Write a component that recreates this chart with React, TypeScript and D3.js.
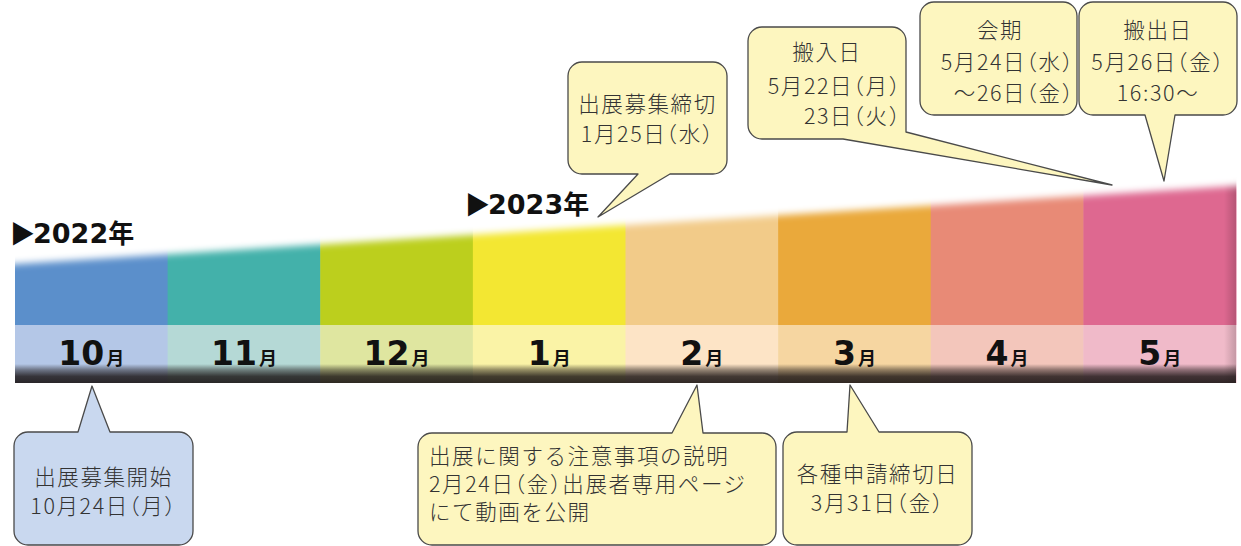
import React from 'react';
import * as d3 from 'd3';

const W = 1241;
const H = 546;

// months and colours
const months = ['10', '11', '12', '1', '2', '3', '4', '5'];
const bandColors = ['#5b8fcb', '#43b1aa', '#bccf1d', '#f3e732', '#f2cb89', '#eaa93b', '#e88a76', '#de6890'];
const labelColors = ['#b4c7e7', '#b5d9d6', '#dfe6a0', '#faf3a6', '#fde4c6', '#f6d6a1', '#f3c6bb', '#f0bac9'];

// year markers
const years = ['2022', '2023'];

// callout texts
const calloutTexts = [
  ['出展募集開始', '10月24日（月）'],
  ['出展に関する注意事項の説明', '2月24日（金）出展者専用ページ', 'にて動画を公開'],
  ['各種申請締切日', '3月31日（金）'],
  ['出展募集締切', '1月25日（水）'],
  ['搬入日', '5月22日（月）', '23日（火）'],
  ['会期', '5月24日（水）', '～26日（金）'],
  ['搬出日', '5月26日（金）', '16:30～'],
];

type Line = { x: number; y: number; anchor: 'start' | 'middle' | 'end' };
type Callout = {
  box: [number, number, number, number];
  side: 'top' | 'bottom';
  base: [number, number];
  tip: [number, number];
  corner?: number;
  fill: string;
  lines: Line[];
};

const BLUE = '#c9d8ef';
const YELLOW = '#fdf6bf';

const layout: Callout[] = [
  {
    box: [14, 432, 193, 545], side: 'top', base: [78, 110], tip: [92, 386], fill: BLUE,
    lines: [{ x: 103.5, y: 485, anchor: 'middle' }, { x: 103.5, y: 514, anchor: 'middle' }],
  },
  {
    box: [418, 433, 776, 545], side: 'top', base: [672, 703], tip: [697, 385], fill: YELLOW,
    lines: [{ x: 429, y: 464, anchor: 'start' }, { x: 429, y: 492, anchor: 'start' }, { x: 429, y: 520, anchor: 'start' }],
  },
  {
    box: [783, 432, 972, 545], side: 'top', base: [847, 879], tip: [850, 385], fill: YELLOW,
    lines: [{ x: 877.5, y: 482, anchor: 'middle' }, { x: 877.5, y: 511, anchor: 'middle' }],
  },
  {
    box: [568, 62, 727, 174], side: 'bottom', base: [638, 670], tip: [598, 217], fill: YELLOW,
    lines: [{ x: 647.5, y: 112, anchor: 'middle' }, { x: 647.5, y: 142, anchor: 'middle' }],
  },
  {
    box: [748, 27, 906, 139], side: 'bottom', base: [843, 906], tip: [1112, 185], corner: 132, fill: YELLOW,
    lines: [{ x: 827, y: 60, anchor: 'middle' }, { x: 901, y: 94, anchor: 'end' }, { x: 901, y: 124, anchor: 'end' }],
  },
  {
    box: [920, 2, 1077, 115], side: 'bottom', base: [0, 0], tip: [0, 0], fill: YELLOW,
    lines: [{ x: 1000, y: 38, anchor: 'middle' }, { x: 1074, y: 70, anchor: 'end' }, { x: 1074, y: 101, anchor: 'end' }],
  },
  {
    box: [1079, 2, 1237, 115], side: 'bottom', base: [1145, 1175], tip: [1164, 181], fill: YELLOW,
    lines: [{ x: 1158, y: 38, anchor: 'middle' }, { x: 1158, y: 70, anchor: 'middle' }, { x: 1158, y: 101, anchor: 'middle' }],
  },
];

function calloutPath(c: Callout): string {
  const [x0, y0, x1, y1] = c.box;
  const r = 14;
  const p = d3.path();
  const hasPtr = c.base[0] !== c.base[1];
  if (c.side === 'top') {
    p.moveTo(x0 + r, y0);
    if (hasPtr) {
      p.lineTo(c.base[0], y0);
      p.lineTo(c.tip[0], c.tip[1]);
      p.lineTo(c.base[1], y0);
    }
    p.lineTo(x1 - r, y0);
    p.arcTo(x1, y0, x1, y0 + r, r);
    p.lineTo(x1, y1 - r);
    p.arcTo(x1, y1, x1 - r, y1, r);
    p.lineTo(x0 + r, y1);
  } else {
    p.moveTo(x0 + r, y0);
    p.lineTo(x1 - r, y0);
    p.arcTo(x1, y0, x1, y0 + r, r);
    if (hasPtr && c.corner !== undefined) {
      p.lineTo(x1, c.corner);
      p.lineTo(c.tip[0], c.tip[1]);
      p.lineTo(c.base[0], y1);
    } else {
      p.lineTo(x1, y1 - r);
      p.arcTo(x1, y1, x1 - r, y1, r);
      if (hasPtr) {
        p.lineTo(c.base[1], y1);
        p.lineTo(c.tip[0], c.tip[1]);
        p.lineTo(c.base[0], y1);
      }
    }
    p.lineTo(x0 + r, y1);
  }
  p.arcTo(x0, y1, x0, y1 - r, r);
  p.lineTo(x0, y0 + r);
  p.arcTo(x0, y0, x0 + r, y0, r);
  p.closePath();
  return p.toString();
}

const CJK = '"Noto Sans CJK JP", "Noto Sans CJK SC", sans-serif';

export default function App() {
  const x = d3.scaleBand<string>().domain(months).range([15, 1236]).padding(0);
  // slanted top edge of the colour band
  const topY = d3.scaleLinear().domain([15, 1236]).range([264, 186]);
  const bandBottom = 325;
  const labelBottom = 383;

  const maskPts = [
    [-60, topY(-60)], [1320, topY(1320)], [1320, 420], [-60, 420],
  ].map((d) => d.join(',')).join(' ');

  const yearPos = [
    { x: 10, y: 243 },
    { x: 465, y: 214 },
  ];

  return (
    <svg width={W} height={H} viewBox={`0 0 ${W} ${H}`}
      style={{ position: 'absolute', left: 0, top: 0, display: 'block', background: '#fff' }}>
      <defs>
        <filter id="soft" x="-10%" y="-50%" width="120%" height="200%">
          <feGaussianBlur stdDeviation="3.6" />
        </filter>
        <mask id="topMask" maskUnits="userSpaceOnUse" x="0" y="0" width={W} height={H}>
          <polygon points={maskPts} fill="#fff" filter="url(#soft)" />
        </mask>
        <linearGradient id="bottomShade" x1="0" y1="0" x2="0" y2="1">
          <stop offset="0" stopColor="#1a1414" stopOpacity="0" />
          <stop offset="0.3" stopColor="#1a1414" stopOpacity="0.45" />
          <stop offset="0.65" stopColor="#1a1414" stopOpacity="0.82" />
          <stop offset="1" stopColor="#1a1414" stopOpacity="0.9" />
        </linearGradient>
        <linearGradient id="rightShade" x1="0" y1="0" x2="1" y2="0">
          <stop offset="0" stopColor="#000" stopOpacity="0" />
          <stop offset="1" stopColor="#000" stopOpacity="0.18" />
        </linearGradient>
      </defs>

      {/* colour band */}
      <g mask="url(#topMask)">
        {months.map((m, i) => (
          <rect key={m} x={x(m)!} y={150} width={x.bandwidth() + 0.5} height={bandBottom - 150} fill={bandColors[i]} />
        ))}
        <rect x={1224} y={150} width={12} height={bandBottom - 150} fill="url(#rightShade)" />
      </g>

      {/* label band */}
      {months.map((m, i) => (
        <rect key={m} x={x(m)!} y={bandBottom} width={x.bandwidth() + 0.5} height={labelBottom - bandBottom} fill={labelColors[i]} />
      ))}
      <rect x={1224} y={bandBottom} width={12} height={labelBottom - bandBottom} fill="url(#rightShade)" />
      <rect x={15} y={364} width={1221} height={labelBottom - 364} fill="url(#bottomShade)" />

      {/* month labels */}
      {months.map((m) => (
        <text key={m} x={x(m)! + x.bandwidth() / 2} y={365} textAnchor="middle" fill="#111">
          <tspan fontFamily='"DejaVu Sans", sans-serif' fontWeight={700} fontSize={33}>{m}</tspan>
          <tspan fontFamily={CJK} fontWeight={700} fontSize={18} dx={2}>月</tspan>
        </text>
      ))}

      {/* year labels */}
      {years.map((yr, i) => (
        <text key={yr} x={yearPos[i].x} y={yearPos[i].y} fill="#111">
          <tspan fontFamily={CJK} fontSize={25}>▶</tspan>
          <tspan fontFamily='"DejaVu Sans", sans-serif' fontWeight={700} fontSize={27} dx={-2}>{yr}</tspan>
          <tspan fontFamily={CJK} fontWeight={700} fontSize={26}>年</tspan>
        </text>
      ))}

      {/* callouts */}
      {layout.map((c, i) => (
        <g key={i}>
          <path d={calloutPath(c)} fill={c.fill} stroke="#4a4a4a" strokeWidth={1.3} strokeLinejoin="round" />
          {calloutTexts[i].map((t, j) => (
            <text key={j} x={c.lines[j].x} y={c.lines[j].y} textAnchor={c.lines[j].anchor}
              fontFamily={CJK} fontSize={21.5} fontWeight={300} letterSpacing={1.6} fill="#333"
              style={{ fontFeatureSettings: '"halt"' }}>
              {t}
            </text>
          ))}
        </g>
      ))}
    </svg>
  );
}
